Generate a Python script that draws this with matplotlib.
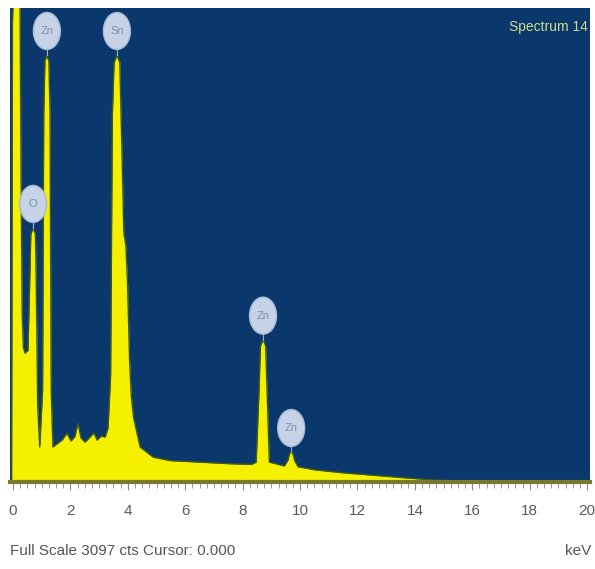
import numpy as np
import matplotlib
matplotlib.use("Agg")
import matplotlib.pyplot as plt
import matplotlib.ticker as ticker
from matplotlib.patches import Ellipse

# spectrum (energy in keV, counts)
energy = [-0.05, -0.02, 0.03, 0.14, 0.24, 0.28, 0.32, 0.36, 0.42, 0.52, 0.58, 0.62, 0.70,
          0.78, 0.81, 0.86, 0.93, 1.03, 1.07, 1.11, 1.18, 1.25, 1.29, 1.33, 1.39, 1.57,
          1.71, 1.88, 2.02, 2.16, 2.26, 2.37, 2.51, 2.68, 2.82, 2.93, 3.07, 3.21, 3.31,
          3.40, 3.46, 3.52, 3.62, 3.72, 3.79, 3.86, 3.93, 3.99, 4.06, 4.12, 4.20, 4.43,
          4.88, 5.47, 6.5, 7.5, 8.3, 8.47, 8.57, 8.62, 8.71, 8.80, 8.85, 8.93, 9.45,
          9.57, 9.63, 9.69, 9.75, 9.81, 9.93, 10.5, 11.5, 12.5, 13.5, 14.5, 15.5, 16.5, 20.2]
counts = [0, 3000, 3300, 3400, 3300, 2000, 1100, 880, 842, 860, 1300, 1620, 1660,
          1620, 1300, 500, 229, 600, 2400, 2750, 2790, 2750, 2400, 600, 229, 255,
          274, 320, 268, 300, 385, 287, 261, 294, 320, 274, 300, 294, 353,
          700, 2400, 2740, 2790, 2740, 2200, 1626, 1550, 1300, 800, 560, 420, 228,
          163, 140, 130, 120, 115, 130, 600, 890, 930, 890, 600, 130, 105,
          140, 185, 196, 185, 140, 100, 80, 60, 45, 30, 15, 5, 0, 0]

peak_keV = [0.70, 1.18, 3.62, 8.71, 9.69]
peak_labels = ["O", "Zn", "Sn", "Zn", "Zn"]

full_scale = 3097
title = "Spectrum 14"
footer = "Full Scale 3097 cts Cursor: 0.000"

font = "Liberation Sans"

fig = plt.figure(figsize=(5.95, 5.69), dpi=100)
ax = fig.add_axes([10 / 595, 87 / 569, 580 / 595, 474 / 569])
ax.set_facecolor("#0a376c")

ax.fill_between(energy, counts, 0, color="#f4f000", lw=0)
ax.plot(energy, counts, color="#3d5a1e", lw=1.0)

ax.set_xlim(-0.105, 20.1)
ax.set_ylim(0, full_scale)

# peak labels: pale ellipse sitting on a short stem above each peak
px_x = 1 / 28.7
px_y = full_scale / 474
for e, lab in zip(peak_keV, peak_labels):
    top = np.interp(e, energy, counts)
    cy = top + 24 * px_y
    ax.plot([e, e], [top, cy], color="#9fb0c8", lw=0.8)
    ax.add_patch(Ellipse((e, cy), 27 * px_x, 37 * px_y, facecolor="#c6d3e6",
                         edgecolor="#a8bad4", lw=1, zorder=5))
    ax.text(e, cy, lab, ha="center", va="center", fontsize=8, color="#7d8fa8",
            zorder=6, family=font)

ax.text(0.997, 0.96, title, transform=ax.transAxes, ha="right", va="center",
        fontsize=10, color="#c9dc8e", family=font)

ax.xaxis.set_major_locator(ticker.MultipleLocator(2))
ax.xaxis.set_minor_locator(ticker.MultipleLocator(0.25))
ax.tick_params(axis="x", which="major", length=6, color="#8a8a8a", labelcolor="#5a5a5a",
               labelsize=11, pad=10)
ax.tick_params(axis="x", which="minor", length=4, color="#8a8a8a")
for lbl in ax.get_xticklabels():
    lbl.set_family(font)
ax.set_yticks([])
for s in ["top", "left", "right"]:
    ax.spines[s].set_visible(False)
ax.spines["bottom"].set_color("#7a7a30")
ax.spines["bottom"].set_linewidth(3)

fig.text(10 / 595, 1 - 551 / 569, footer, ha="left", va="center", fontsize=11,
         color="#555555", family=font)
fig.text(591 / 595, 1 - 551 / 569, "keV", ha="right", va="center", fontsize=11,
         color="#555555", family=font)

fig.savefig("out.png", dpi=100)
